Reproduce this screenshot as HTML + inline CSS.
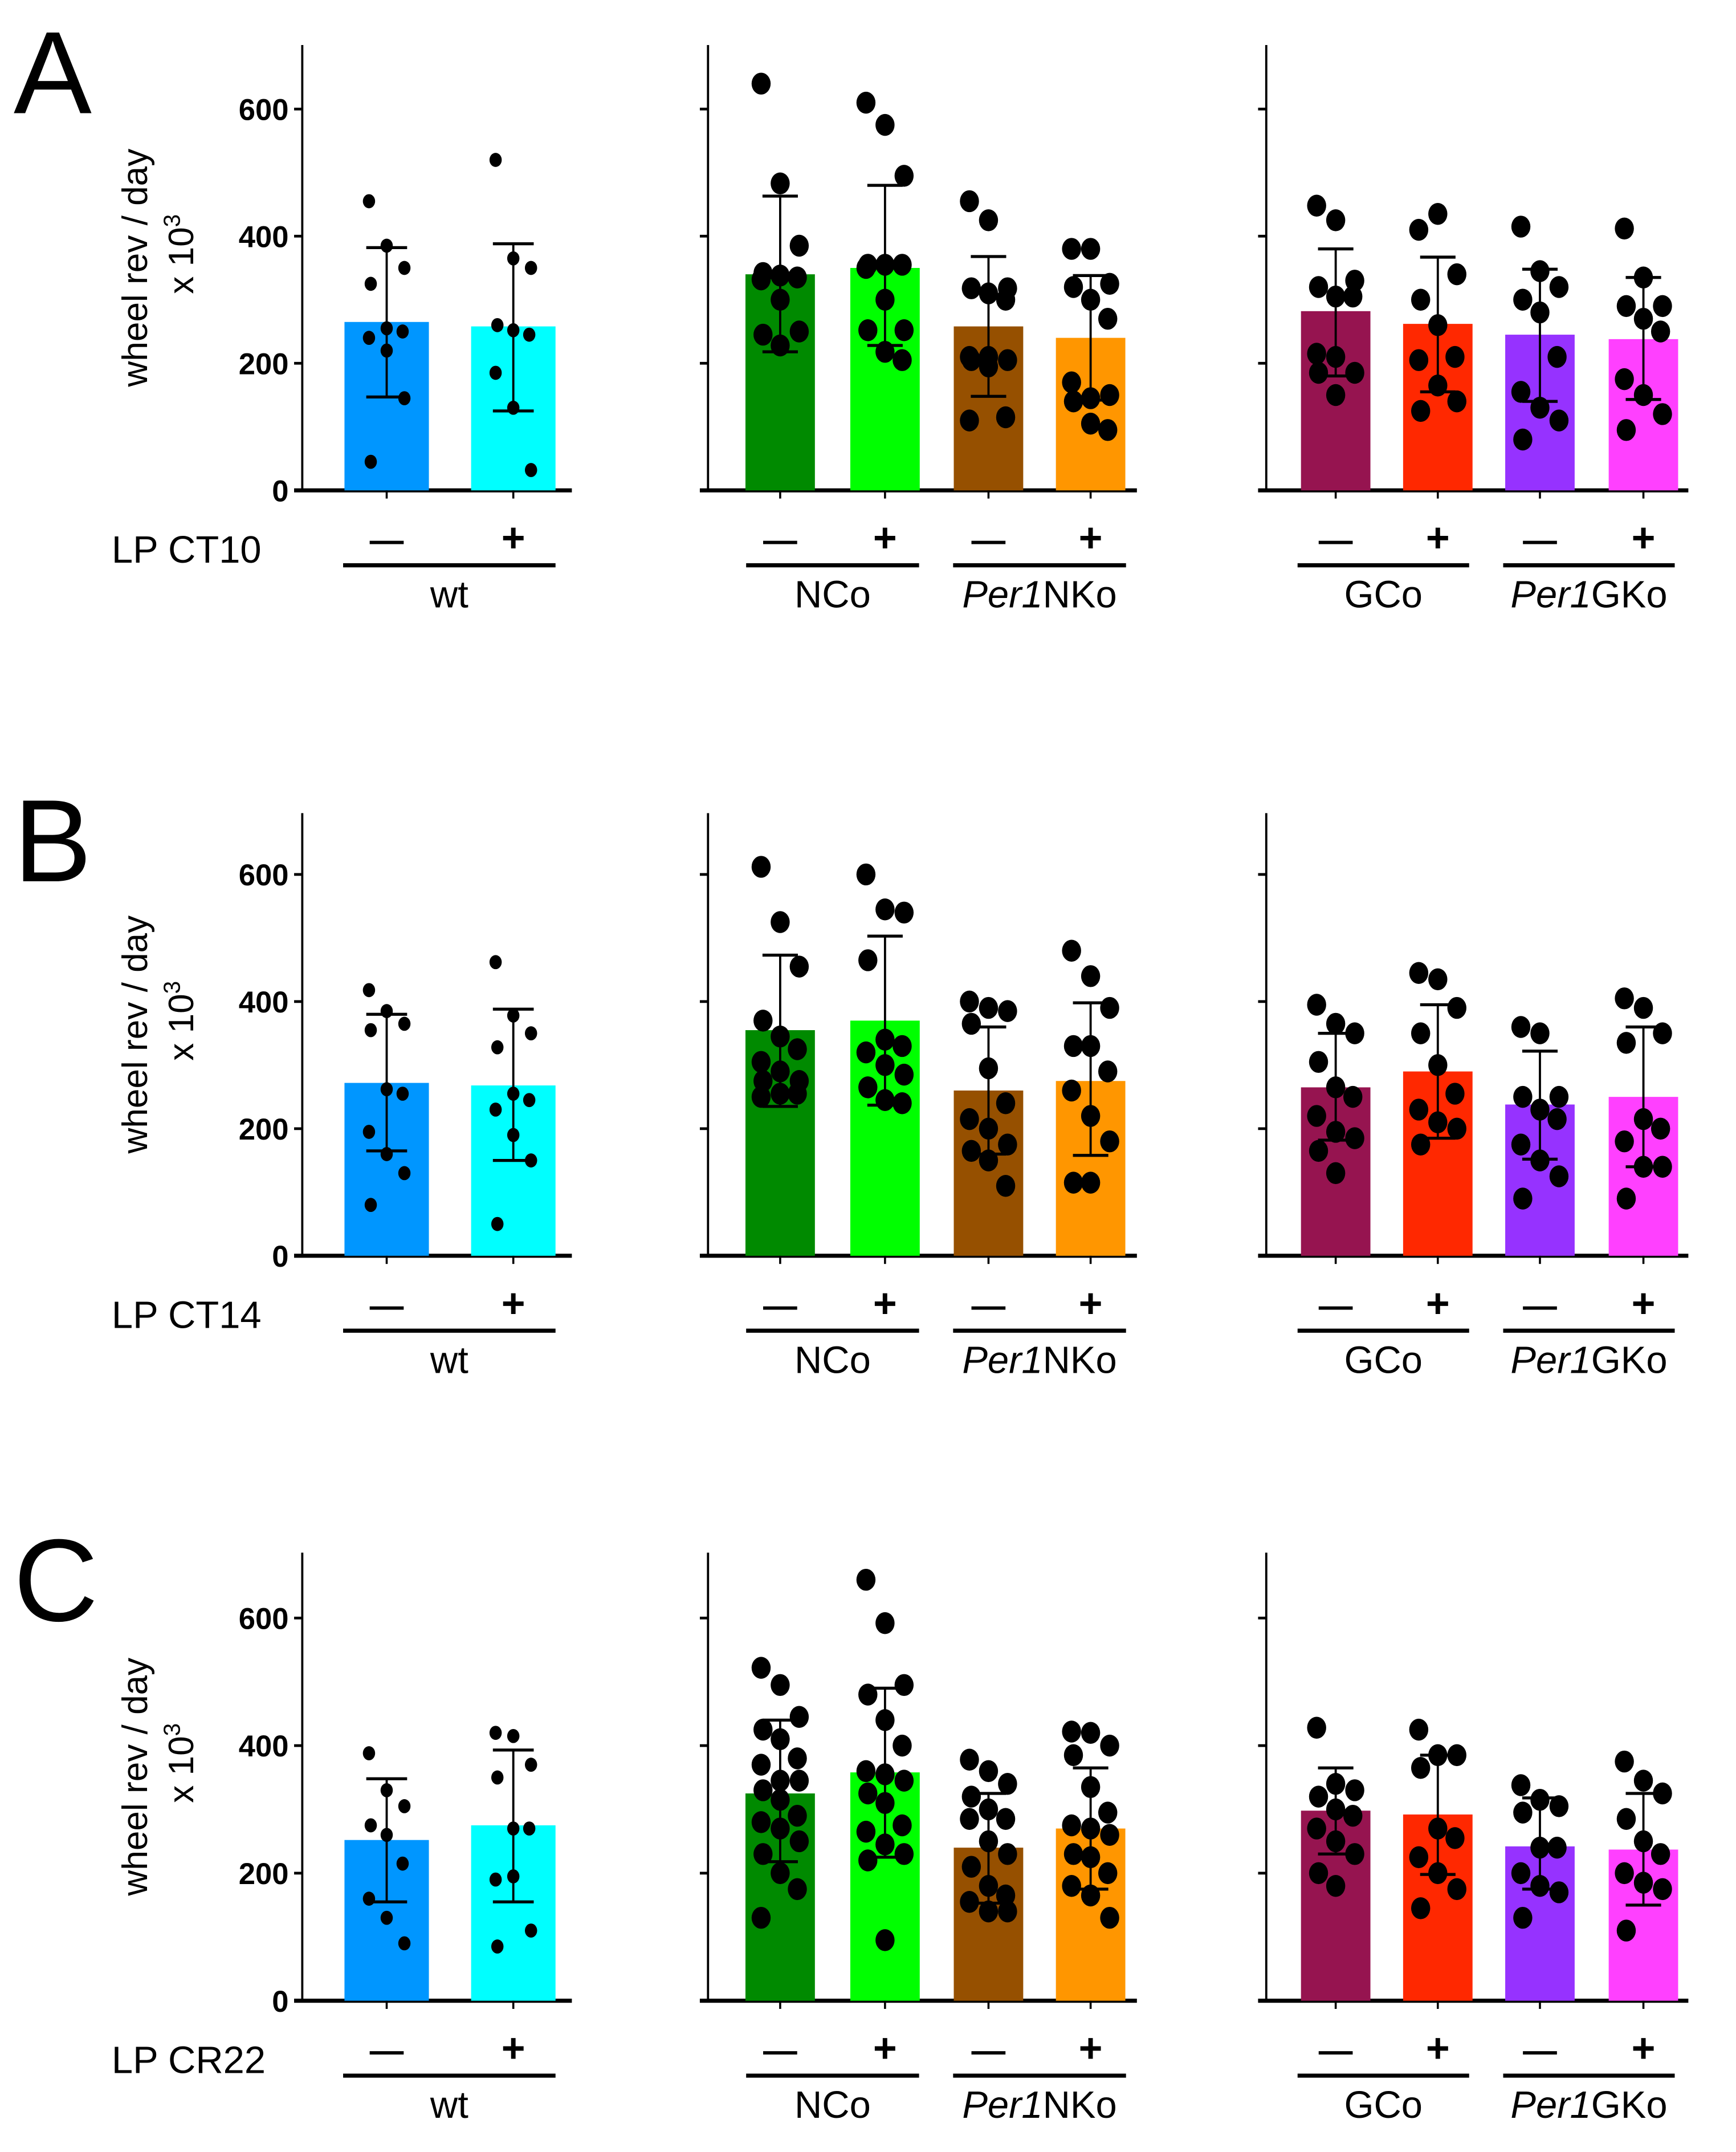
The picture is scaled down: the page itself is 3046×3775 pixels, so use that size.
<!DOCTYPE html>
<html><head><meta charset="utf-8">
<style>
html,body{margin:0;padding:0;background:#fff;}
svg{display:block;}
text{font-family:"Liberation Sans",Arial,sans-serif;}
</style></head>
<body>
<svg id="fig" width="3046" height="3775" viewBox="0 0 1275 1580" xmlns="http://www.w3.org/2000/svg"></svg>
<script>
// ---- data ----
const conditions = ["CT10","CT14","CR22"];
const panelLetters = ["A","B","C"];
const barNames = ["wt-","wt+","NCo-","NCo+","Per1NKo-","Per1NKo+","GCo-","GCo+","Per1GKo-","Per1GKo+"];
const yTicks = [0,200,400,600];
const meansA = [265,258,340,350,258,240,282,262,245,238];
const errHiA = [382,388,463,480,368,338,380,367,348,335];
const errLoA = [147,125,218,228,148,142,180,155,140,143];
const pointsA = [
 [455,385,350,325,255,250,240,220,145,45],
 [520,365,350,260,252,245,185,130,32],
 [640,483,385,342,338,335,332,300,250,245,228],
 [610,575,495,355,355,355,350,300,252,252,218,205],
 [455,425,318,318,310,300,210,210,205,205,195,115,110],
 [380,380,325,320,300,270,170,145,150,140,105,95],
 [448,425,330,320,305,305,215,210,185,185,150],
 [410,435,340,300,260,210,205,165,140,125],
 [415,345,320,300,280,210,155,130,110,80],
 [412,335,290,290,270,250,175,150,120,95]];
const meansB = [272,268,355,370,260,275,265,290,238,250];
const errHiB = [380,388,473,503,360,398,350,395,322,360];
const errLoB = [165,150,235,237,160,158,182,185,152,140];
const pointsB = [
 [418,385,365,355,262,255,195,160,130,80],
 [462,378,350,328,255,245,230,190,150,50],
 [612,525,455,370,345,325,305,290,275,275,255,255,250],
 [600,545,540,465,340,330,320,300,285,265,245,240],
 [400,390,385,365,295,240,215,200,175,165,150,110],
 [480,440,390,330,330,290,260,220,180,115,115],
 [395,365,350,305,265,250,220,195,185,165,130],
 [445,435,390,350,300,255,230,210,200,175],
 [360,350,250,250,230,215,175,150,125,90],
 [405,390,350,335,215,200,180,140,140,90]];
const meansC = [252,275,325,358,240,270,298,292,242,237];
const errHiC = [348,393,440,490,325,365,365,385,318,325];
const errLoC = [155,155,218,225,153,175,230,198,175,150];
const pointsC = [
 [388,330,305,275,260,215,160,130,90],
 [420,415,370,350,270,270,190,195,110,85],
 [522,495,445,425,410,380,370,345,345,330,315,290,280,270,250,230,200,175,130],
 [660,592,495,480,440,400,360,355,345,325,310,275,265,245,230,220,95],
 [378,360,340,320,300,285,285,250,230,210,180,165,155,140,140],
 [422,420,400,385,335,295,275,270,260,230,225,200,180,165,130],
 [428,340,330,320,300,290,270,250,230,200,180],
 [425,385,385,365,270,255,225,200,175,145],
 [338,315,305,295,240,240,200,180,170,130],
 [375,345,325,285,250,230,200,185,175,110]];
const barColors = ["#0096ff","#00ffff","#008a00","#00ff00","#965000","#ff9600","#961450","#ff2800","#9632ff","#ff40ff"];
const groupLabels = ["wt","NCo","Per1NKo","GCo","Per1GKo"];

const means=[meansA,meansB,meansC], errHi=[errHiA,errHiB,errHiC], errLo=[errLoA,errLoB,errLoC], pts=[pointsA,pointsB,pointsC];

// ---- layout ----
const NS="http://www.w3.org/2000/svg";
const svg=document.getElementById('fig');
function mk(tag,attrs,parent){const e=document.createElementNS(NS,tag);for(const k in attrs)e.setAttribute(k,attrs[k]);(parent||svg).appendChild(e);return e;}
const panelY0=[360,922,1469], panelY600=[80,642,1188], panelTop=[33,597,1140];
const axisX=[222,520,930], axisEnd=[420,835,1240];
const barCenters=[284,377,573,650,726,801,981,1056,1131,1207];
const barGroup=[0,0,1,1,1,1,2,2,2,2];

for(let p=0;p<3;p++){
  const y0=panelY0[p], k=(panelY0[p]-panelY600[p])/600;
  const yS=v=>y0-v*k;
  const g=mk('g',{});
  
  
  const L=mk('text',{x:10,y:panelTop[p]+50,'font-size':86},g);L.textContent=panelLetters[p];
  
  
  const cy=(panelTop[p]+y0)/2;
  const t1=mk('text',{x:0,y:0,'font-size':26,'text-anchor':'middle',transform:`translate(108,${cy}) rotate(-90)`},g);t1.textContent='wheel rev / day';
  
  
  const t2=mk('text',{x:0,y:0,'font-size':26,'text-anchor':'middle',transform:`translate(142,${cy-10}) rotate(-90)`},g);
  
  
  t2.innerHTML='x 10<tspan dy="-10" font-size="17">3</tspan>';
  for(let a=0;a<3;a++){
    const ax=mk('line',{x1:axisX[a],y1:panelTop[p],x2:axisX[a],y2:y0,stroke:'#000','stroke-width':1.6},g);
    
    
    const bl=mk('line',{x1:axisX[a]-6,y1:y0,x2:axisEnd[a],y2:y0,stroke:'#000','stroke-width':3},g);
    
    
    yTicks.forEach(v=>{
      const tk=mk('line',{x1:axisX[a]-6,y1:yS(v),x2:axisX[a],y2:yS(v),stroke:'#000','stroke-width':2},g);
      
      
      if(a===0){const tl=mk('text',{x:axisX[a]-10,y:yS(v)+8,'font-size':22,'font-weight':'bold','text-anchor':'end'},g);tl.textContent=v;
        
        }
    });
  }
  for(let b=0;b<10;b++){
    const cx=barCenters[b], w=barGroup[b]===0?62:51, r=barGroup[b]===0?4.5:7, jit=barGroup[b]===0?13:14;
    const rect=mk('rect',{x:cx-w/2,y:yS(means[p][b]),width:w,height:y0-yS(means[p][b]),fill:barColors[b]},g);
    
    
    const xt=mk('line',{x1:cx,y1:y0,x2:cx,y2:y0+6,stroke:'#000','stroke-width':1.5},g);
    
    
    pts[p][b].forEach((v,i)=>{
      const off=((i%3)-1)*jit*(i%2?0.9:1);
      const c=mk('ellipse',{cx:cx+off,cy:yS(v),rx:r,ry:r*1.15,fill:'#000'},g);
      
      
    });
    const cw=barGroup[b]===0?15:13;
    const eg=mk('g',{stroke:'#000','stroke-width':1.6},g);
    
    
    mk('line',{x1:cx,y1:yS(errHi[p][b]),x2:cx,y2:yS(errLo[p][b])},eg);
    mk('line',{x1:cx-cw,y1:yS(errHi[p][b]),x2:cx+cw,y2:yS(errHi[p][b]),'stroke-width':2.2},eg);
    mk('line',{x1:cx-cw,y1:yS(errLo[p][b]),x2:cx+cw,y2:yS(errLo[p][b]),'stroke-width':2.2},eg);
    const s=mk('text',{x:cx,y:y0+45,'font-size':(b%2===0)?25:30,'font-weight':'bold','text-anchor':'middle'},g);
    s.textContent=(b%2===0)?'\u2014':'+';
    
    
  }
  const lp=mk('text',{x:82,y:y0+53,'font-size':28},g);lp.textContent='LP '+conditions[p];
  
  
  const gx=[[252,408],[548,675],[700,827],[953,1079],[1104,1230]];
  gx.forEach((r,i)=>{
    const ln=mk('line',{x1:r[0],y1:y0+55,x2:r[1],y2:y0+55,stroke:'#000','stroke-width':3},g);
    
    
    const tx=mk('text',{x:(r[0]+r[1])/2,y:y0+86,'font-size':28,'text-anchor':'middle'},g);
    
    
    const nm=groupLabels[i];
    if(nm.startsWith('Per1')) tx.innerHTML='<tspan font-style="italic">Per1</tspan>'+nm.slice(4);
    else tx.textContent=nm;
  });
}
</script>
</body></html>
